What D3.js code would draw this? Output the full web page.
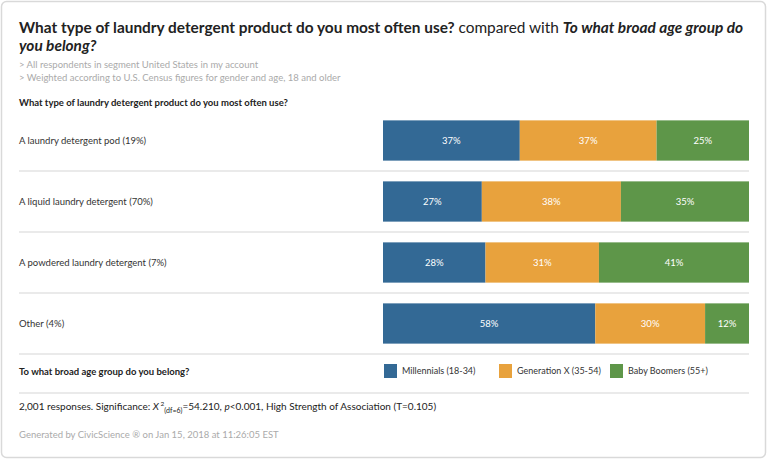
<!DOCTYPE html>
<html><head><meta charset="utf-8">
<script src="https://cdn.jsdelivr.net/npm/d3@7/dist/d3.min.js"></script>
<style>
html,body{margin:0;padding:0;background:#fff;}
svg{display:block;font-family:Lato,"Open Sans",sans-serif;}
</style></head>
<body><svg id="c" width="768" height="460"></svg>
<script>
const categories = ["A laundry detergent pod (19%)","A liquid laundry detergent (70%)","A powdered laundry detergent (7%)","Other (4%)"];
const seriesNames = ["Millennials (18-34)","Generation X (35-54)","Baby Boomers (55+)"];
const millennials = [37,27,28,58];
const genX = [37,38,31,30];
const boomers = [25,35,41,12];
const colors = ["#336995","#e8a23d","#5e9649"];

const svg = d3.select("#c");
svg.append("rect").attr("x",1.5).attr("y",1.5).attr("width",764).attr("height",456)
  .attr("rx",5).attr("fill","#fff").attr("stroke","#d9d9d9").attr("stroke-width",1.5);

// Title
const t = svg.append("text").attr("x",19).attr("y",33).attr("font-size",15.4).attr("fill","#222");
t.append("tspan").attr("font-weight","bold").text("What type of laundry detergent product do you most often use?");
t.append("tspan").attr("font-weight","normal").text(" compared with ");
t.append("tspan").attr("font-weight","bold").attr("font-style","italic").text("To what broad age group do");
svg.append("text").attr("x",19).attr("y",51).attr("font-size",15.4).attr("fill","#222")
  .attr("font-weight","bold").attr("font-style","italic").text("you belong?");
svg.append("text").attr("x",19).attr("y",68).attr("font-size",9.5).attr("fill","#aaa").text("> All respondents in segment United States in my account");
svg.append("text").attr("x",19).attr("y",81).attr("font-size",9.5).attr("fill","#aaa").text("> Weighted according to U.S. Census figures for gender and age, 18 and older");
svg.append("text").attr("x",19).attr("y",106).attr("font-size",9.5).attr("font-weight","bold").attr("fill","#222")
  .text("What type of laundry detergent product do you most often use?");

const data = categories.map((c,i)=>({cat:c, m:millennials[i], g:genX[i], b:boomers[i]}));
const keys = ["m","g","b"];
const stack = d3.stack().keys(keys).offset(d3.stackOffsetExpand);
const series = stack(data);

const y = d3.scaleBand().domain(categories).range([110,354]).paddingInner(0.34).paddingOuter(0.17);
const x = d3.scaleLinear().domain([0,1]).range([383,749]);

// separators
const sepY = categories.map((c,i)=>110 + (i+1)*61);
svg.selectAll("line.sep").data(sepY).join("line").attr("class","sep")
  .attr("x1",19).attr("x2",749).attr("y1",d=>d).attr("y2",d=>d)
  .attr("stroke","#e3e3e3").attr("stroke-width",1.5);

// row labels
svg.selectAll("text.cat").data(categories).join("text").attr("class","cat")
  .attr("x",19).attr("y",d=>y(d)+y.bandwidth()/2).attr("dy","0.35em")
  .attr("font-size",9.5).attr("fill","#333").text(d=>d);

const g = svg.selectAll("g.ser").data(series).join("g").attr("class","ser").attr("fill",(d,i)=>colors[i]);
g.selectAll("rect").data(d=>d).join("rect")
  .attr("x",d=>x(d[0])).attr("width",d=>x(d[1])-x(d[0]))
  .attr("y",d=>y(d.data.cat)).attr("height",y.bandwidth());
series.forEach((s,si)=>{
  svg.append("g").selectAll("text").data(s).join("text")
    .attr("x",d=>(x(d[0])+x(d[1]))/2).attr("y",d=>y(d.data.cat)+y.bandwidth()/2).attr("dy","0.35em")
    .attr("text-anchor","middle").attr("font-size",9.5).attr("fill","#fff")
    .text(d=>d.data[keys[si]]+"%");
});

// legend
svg.append("text").attr("x",19).attr("y",375).attr("font-size",9.5).attr("font-weight","bold").attr("fill","#222")
  .text("To what broad age group do you belong?");
const legendX = [384,499,610];
seriesNames.forEach((name,i)=>{
  const lg = svg.append("g").attr("transform",`translate(${legendX[i]},364)`);
  lg.append("rect").attr("width",13).attr("height",14).attr("fill",colors[i]);
  lg.append("text").attr("x",18).attr("y",7).attr("dy","0.35em").attr("font-size",9)
    .attr("fill","#333").text(name);
});

svg.append("line").attr("x1",19).attr("x2",749).attr("y1",393).attr("y2",393).attr("stroke","#e3e3e3").attr("stroke-width",1.5);

// footer
const f = svg.append("text").attr("x",19).attr("y",410).attr("font-size",10).attr("fill","#222");
f.append("tspan").text("2,001 responses. Significance: ");
f.append("tspan").attr("font-style","italic").text("X");
f.append("tspan").attr("font-size",6.5).attr("dy",-4).text(" 2");
f.append("tspan").attr("font-size",7).attr("dy",7).text("(df=6)");
f.append("tspan").attr("dy",-3).text("=54.210, ");
f.append("tspan").attr("font-style","italic").text("p");
f.append("tspan").text("<0.001, High Strength of Association (T=0.105)");

svg.append("text").attr("x",19).attr("y",438).attr("font-size",9.5).attr("fill","#aaa")
  .text("Generated by CivicScience \u00AE on Jan 15, 2018 at 11:26:05 EST");
</script></body></html>
